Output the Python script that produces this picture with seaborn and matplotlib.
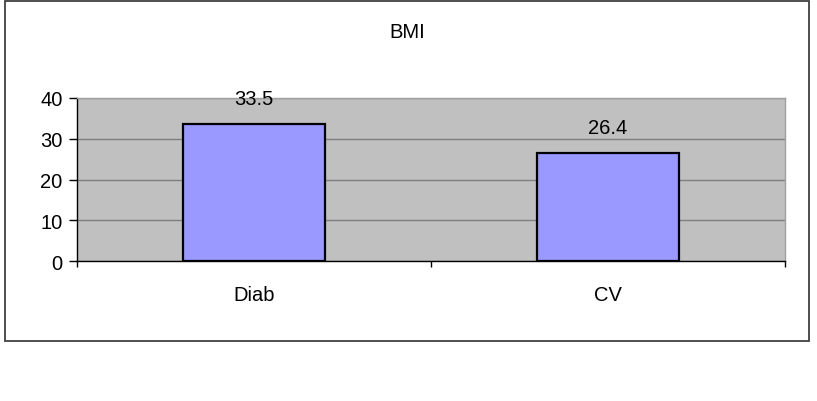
import matplotlib
matplotlib.use("Agg")
import matplotlib.pyplot as plt
import seaborn as sns
import pandas as pd
from matplotlib.patches import Rectangle

categories = ["Diab", "CV"]
values = [33.5, 26.4]
value_labels = ["33.5", "26.4"]
yticks = [0, 10, 20, 30, 40]
title = "BMI"

sns.set_theme(style="white")
plt.rcParams["font.family"] = ["Liberation Sans", "DejaVu Sans"]

FS = 14.5
W, H = 817, 402
fig = plt.figure(figsize=(W / 100, H / 100), dpi=100)
ax = fig.add_axes([77 / W, 1 - 262 / H, (785 - 77) / W, (262 - 99) / H])

df = pd.DataFrame({"cat": categories, "val": values})
sns.barplot(data=df, x="cat", y="val", color="#9999FF", edgecolor="black",
            linewidth=1.6, width=0.4, saturation=1, ax=ax, zorder=3)

ax.set_facecolor("#C0C0C0")
ax.set_xlim(-0.5, 1.5)
ax.set_ylim(0, 40)
ax.set_yticks(yticks)
ax.set_yticklabels([str(t) for t in yticks], fontsize=FS, color="black")
ax.yaxis.grid(True, color="#808080", linewidth=1.0, zorder=0)
ax.set_axisbelow(True)
ax.set_xlabel("")
ax.set_ylabel("")

ax.set_xticks([0, 1])
ax.set_xticklabels(categories, fontsize=FS, color="black")
ax.tick_params(axis="x", which="major", length=0, pad=17)
ax.set_xticks([-0.5, 0.5, 1.5], minor=True)
ax.tick_params(axis="x", which="minor", length=4.5, width=1, color="black", direction="out", bottom=True)
ax.tick_params(axis="y", length=5.5, width=1, color="black", direction="out", left=True, pad=5)

for s in ["top", "right"]:
    ax.spines[s].set_visible(True)
    ax.spines[s].set_color("#A0A0A0")
    ax.spines[s].set_linewidth(1.0)
ax.spines["left"].set_color("black")
ax.spines["bottom"].set_color("black")
ax.spines["left"].set_linewidth(1.0)
ax.spines["bottom"].set_linewidth(1.0)

for i, (v, lab) in enumerate(zip(values, value_labels)):
    ax.annotate(lab, (i, v), xytext=(0, 19), textcoords="offset points",
                ha="center", va="center", fontsize=FS, color="black", zorder=5)

fig.text((5 + 809) / 2 / W, 1 - 32 / H, title, ha="center", va="center", fontsize=FS, color="black")

fig.patches.append(Rectangle((5 / W, 1 - 342 / H), (809 - 5) / W, (342 - 2) / H,
                             transform=fig.transFigure, fill=False, edgecolor="#404040", linewidth=1.3))

fig.savefig("out.png", dpi=100, facecolor="white")
